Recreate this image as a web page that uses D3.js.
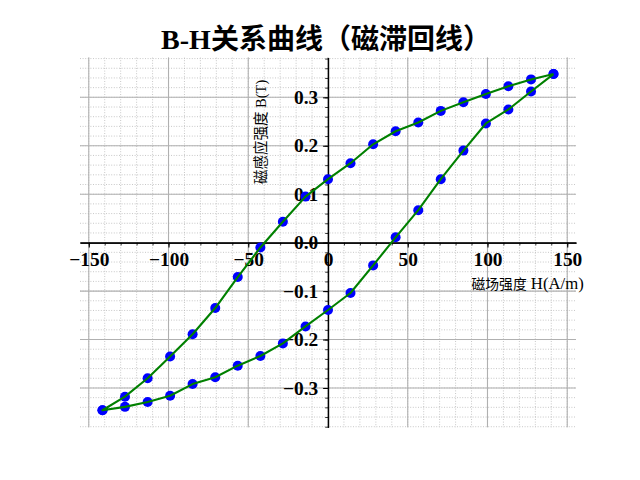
<!DOCTYPE html>
<html><head><meta charset="utf-8">
<script src="https://cdn.jsdelivr.net/npm/d3@7"></script>
<style>body{margin:0;background:#fff} svg{display:block}</style>
</head><body>
<svg id="c" width="640" height="480"></svg>
<script>
// descending branch (from +Hmax to -Hmax)
const H_desc = [141.4,127.3,113.1,99.0,84.9,70.7,56.6,42.4,28.3,14.1,0,-14.1,-28.3,-42.4,-56.6,-70.7,-84.9,-99.0,-113.1,-127.3,-141.4];
const B_desc = [0.348,0.337,0.323,0.307,0.290,0.272,0.248,0.230,0.203,0.164,0.131,0.095,0.043,-0.010,-0.071,-0.135,-0.189,-0.235,-0.280,-0.318,-0.346];
// ascending branch (from -Hmax to +Hmax)
const H_asc = [-141.4,-127.3,-113.1,-99.0,-84.9,-70.7,-56.6,-42.4,-28.3,-14.1,0,14.1,28.3,42.4,56.6,70.7,84.9,99.0,113.1,127.3,141.4];
const B_asc = [-0.346,-0.339,-0.329,-0.316,-0.292,-0.278,-0.254,-0.234,-0.208,-0.173,-0.139,-0.104,-0.047,0.011,0.067,0.131,0.190,0.246,0.275,0.312,0.348];
const xTicks = [-150,-100,-50,0,50,100,150];
const yTicks = [-0.3,-0.2,-0.1,0.0,0.1,0.2,0.3];
const xMinor = [-150,-140,-130,-120,-110,-100,-90,-80,-70,-60,-50,-40,-30,-20,-10,0,10,20,30,40,50,60,70,80,90,100,110,120,130,140,150];
const yMinor = [-0.38,-0.36,-0.34,-0.32,-0.30,-0.28,-0.26,-0.24,-0.22,-0.20,-0.18,-0.16,-0.14,-0.12,-0.10,-0.08,-0.06,-0.04,-0.02,0,0.02,0.04,0.06,0.08,0.10,0.12,0.14,0.16,0.18,0.20,0.22,0.24,0.26,0.28,0.30,0.32,0.34,0.36,0.38];
const titleText = "B-H关系曲线（磁滞回线）";
const xLabelCJK = "磁场强度";
const xLabelLatin = " H(A/m)";
const yLabelText = "磁感应强度 B(T)";

const svg = d3.select("#c");
const L = 80, R = 576, T = 57.6, Bm = 427.2;
const x = d3.scaleLinear().domain([-155.5, 155.5]).range([L, R]);
const y = d3.scaleLinear().domain([-0.381, 0.382]).range([Bm, T]);
const serif = "'Liberation Serif','Noto Sans CJK SC',serif";

// grid
const g = svg.append("g");
g.selectAll(".mx").data(xMinor).join("line")
  .attr("x1", d => x(d)).attr("x2", d => x(d)).attr("y1", T).attr("y2", Bm)
  .attr("stroke", "#b0b0b0").attr("stroke-width", 0.7).attr("stroke-dasharray", "1,1.6");
g.selectAll(".my").data(yMinor).join("line")
  .attr("y1", d => y(d)).attr("y2", d => y(d)).attr("x1", L).attr("x2", R)
  .attr("stroke", "#b0b0b0").attr("stroke-width", 0.7).attr("stroke-dasharray", "1,1.6");
g.selectAll(".Mx").data(xTicks).join("line")
  .attr("x1", d => x(d)).attr("x2", d => x(d)).attr("y1", T).attr("y2", Bm)
  .attr("stroke", "#b0b0b0").attr("stroke-width", 1.1);
g.selectAll(".My").data(yTicks).join("line")
  .attr("y1", d => y(d)).attr("y2", d => y(d)).attr("x1", L).attr("x2", R)
  .attr("stroke", "#b0b0b0").attr("stroke-width", 1.1);

// axes
const xAxis = svg.append("g").attr("transform", `translate(0,${y(0)})`)
  .call(d3.axisBottom(x).tickValues(xTicks).tickSize(4.9).tickSizeOuter(0).tickPadding(4.9).tickFormat(d3.format("d")));
const xAxisMinor = svg.append("g").attr("transform", `translate(0,${y(0)})`)
  .call(d3.axisBottom(x).tickValues(xMinor).tickSize(2.8).tickSizeOuter(0).tickFormat(""));
const yAxis = svg.append("g").attr("transform", `translate(${x(0)},0)`)
  .call(d3.axisLeft(y).tickValues(yTicks).tickSize(4.9).tickSizeOuter(0).tickPadding(4.9).tickFormat(d3.format(".1f")));
const yAxisMinor = svg.append("g").attr("transform", `translate(${x(0)},0)`)
  .call(d3.axisLeft(y).tickValues(yMinor).tickSize(2.8).tickSizeOuter(0).tickFormat(""));
[xAxis, yAxis].forEach(a => {
  a.selectAll("text").attr("font-family", serif).attr("font-size", 19.4).attr("font-weight", "bold").attr("fill", "#000");
  a.selectAll(".tick line").attr("stroke", "#000").attr("stroke-width", 1.1);
  a.select(".domain").attr("stroke", "#000").attr("stroke-width", 1.2);
});
[xAxisMinor, yAxisMinor].forEach(a => {
  a.selectAll(".tick line").attr("stroke", "#000").attr("stroke-width", 0.8);
  a.select(".domain").attr("stroke", "#000").attr("stroke-width", 1.2);
});

// data
const pts = H_desc.map((h, i) => [h, B_desc[i]]).concat(H_asc.map((h, i) => [h, B_asc[i]]));
svg.append("g").selectAll("circle").data(pts).join("circle")
  .attr("cx", d => x(d[0])).attr("cy", d => y(d[1])).attr("r", 5).attr("fill", "#0000ff");
const line = d3.line().x(d => x(d[0])).y(d => y(d[1]));
svg.append("path").datum(pts).attr("d", line).attr("fill", "none")
  .attr("stroke", "#008000").attr("stroke-width", 2.1).attr("stroke-linejoin", "round");

// labels
svg.append("text").attr("x", 326).attr("y", 49).attr("text-anchor", "middle")
  .attr("font-family", serif).attr("font-size", 28).attr("font-weight", "bold").text(titleText);
const xl = svg.append("text").attr("x", 471.5).attr("y", 289).attr("text-anchor", "start")
  .attr("font-family", serif);
xl.append("tspan").attr("font-size", 13.8).text(xLabelCJK);
xl.append("tspan").attr("font-size", 16.7).attr("xml:space", "preserve").style("white-space", "pre").text(xLabelLatin);
svg.append("text").attr("transform", "translate(266,184) rotate(-90)").attr("text-anchor", "start")
  .attr("font-family", serif).attr("font-size", 14.5).text(yLabelText);
</script>
</body></html>
